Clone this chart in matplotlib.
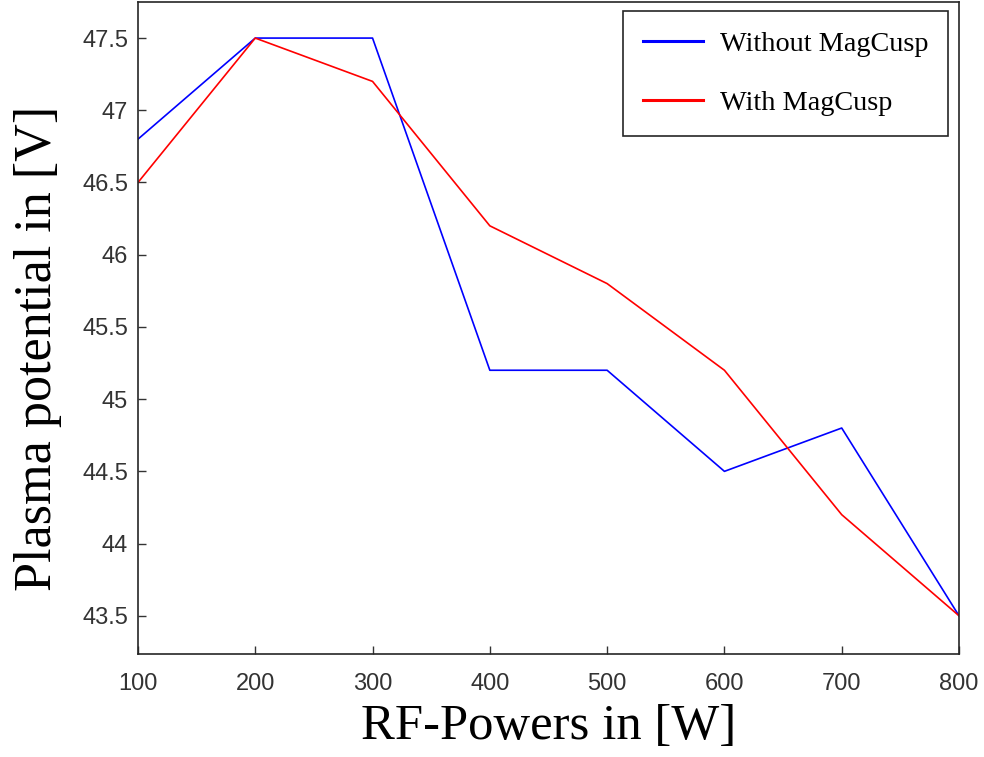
import numpy as np
import matplotlib
matplotlib.use("Agg")
import matplotlib.pyplot as plt

# Données
rf_power = [100, 200, 300, 400, 500, 600, 700, 800]
v_sans_cusp = [46.8, 47.5, 47.5, 45.2, 45.2, 44.5, 44.8, 43.5]
v_avec_cusp = [46.5, 47.5, 47.2, 46.2, 45.8, 45.2, 44.2, 43.5]

x_ticks = [100, 200, 300, 400, 500, 600, 700, 800]
y_ticks = [43.5, 44, 44.5, 45, 45.5, 46, 46.5, 47, 47.5]
y_tick_labels = ["43.5", "44", "44.5", "45", "45.5", "46", "46.5", "47", "47.5"]

AXE_COULEUR = "#262626"

fig = plt.figure(figsize=(9.84, 7.57), dpi=100)
ax = fig.add_axes([0.1402, 0.136, 0.8344, 0.8614])

ax.plot(rf_power, v_sans_cusp, color="#0000ff", linewidth=1.2, label="Without MagCusp")
ax.plot(rf_power, v_avec_cusp, color="#ff0000", linewidth=1.2, label="With MagCusp")

ax.set_xlim(100, 800)
ax.set_ylim(43.235, 47.75)
ax.set_xticks(x_ticks)
ax.set_yticks(y_ticks)
ax.set_yticklabels(y_tick_labels)

for s in ax.spines.values():
    s.set_color(AXE_COULEUR)
    s.set_linewidth(1.2)

ax.tick_params(direction="in", length=5.5, width=1.0, colors="#333333",
               labelsize=17, top=False, right=False)
ax.tick_params(axis="x", pad=14)
ax.tick_params(axis="y", pad=7)
for lab in ax.get_xticklabels() + ax.get_yticklabels():
    lab.set_family("Liberation Sans")

ax.set_xlabel("RF-Powers in [W]", family="Liberation Serif", fontsize=36.5,
              color="black", labelpad=6)
ax.set_ylabel("Plasma potential in [V]", family="Liberation Serif", fontsize=37.5,
              color="black")
ax.yaxis.set_label_coords(-0.092, 0.469)

leg = ax.legend(loc="upper right", bbox_to_anchor=(0.987, 0.986),
                prop={"family": "Liberation Serif", "size": 20.3},
                fancybox=False, framealpha=1, edgecolor=AXE_COULEUR,
                handlelength=2.15, handletextpad=0.6, borderpad=0.7,
                labelspacing=1.2, borderaxespad=0)
leg.get_frame().set_linewidth(1.2)
for h in leg.get_lines():
    h.set_linewidth(2.2)

fig.savefig("out.png", dpi=100)
